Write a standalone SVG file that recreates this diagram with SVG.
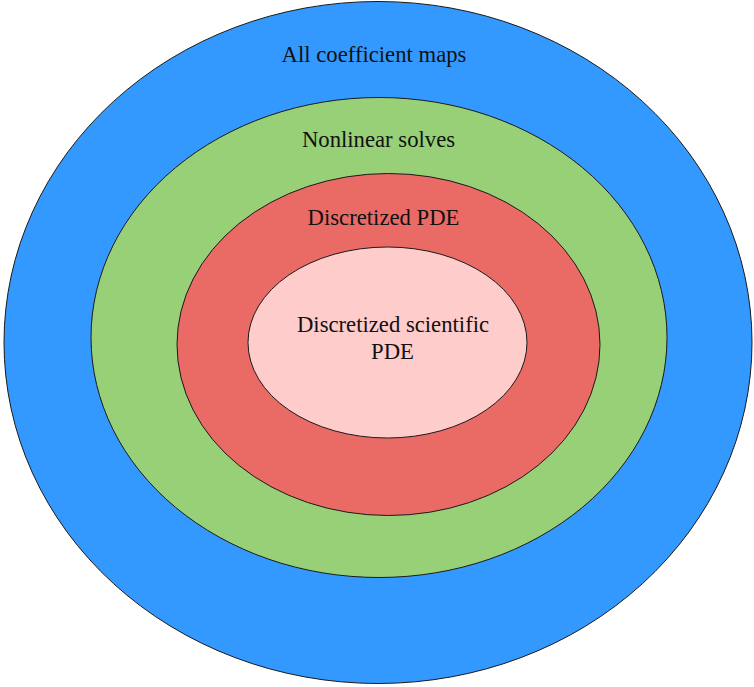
<svg xmlns="http://www.w3.org/2000/svg" width="754" height="687" viewBox="0 0 754 687">
<style>
.e{stroke:#1a1a1a;stroke-width:1}
.t{font-family:"Liberation Serif","Times New Roman",serif;font-size:22.7px;fill:#111;text-anchor:middle}
</style>
<rect width="754" height="687" fill="#fff"/>
<g id="all-coefficient-maps">
<ellipse class="e" cx="378" cy="342.5" rx="374" ry="341" fill="#3399ff"/>
<text class="t" x="374" y="62">All coefficient maps</text>
</g>
<g id="nonlinear-solves">
<ellipse class="e" cx="379" cy="337.5" rx="288" ry="240" fill="#97d077"/>
<text class="t" x="378.5" y="147">Nonlinear solves</text>
</g>
<g id="discretized-pde">
<ellipse class="e" cx="388.5" cy="344.5" rx="211.5" ry="171" fill="#ea6b66"/>
<text class="t" x="383.5" y="225.3">Discretized PDE</text>
</g>
<g id="discretized-scientific-pde">
<ellipse class="e" cx="387.5" cy="342.5" rx="139.5" ry="95.5" fill="#ffcccc"/>
<text class="t" x="393" y="331.7">Discretized scientific</text>
<text class="t" x="392.5" y="359.3">PDE</text>
</g>
<g id="connectors"/>
</svg>
